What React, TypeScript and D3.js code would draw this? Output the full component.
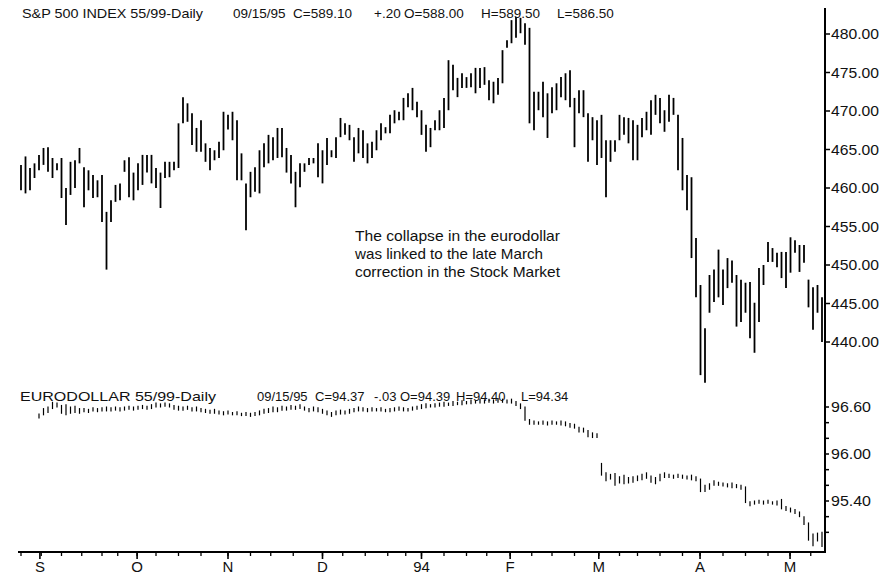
import React, { useEffect, useRef } from 'react';
import * as d3 from 'd3';

// S&P 500 daily bars (high / low), late Aug 1993 .. early May 1994
const spHigh = [
  463.0, 464.1, 462.6, 463.2, 464.3, 465.2, 465.3, 463.9, 463.2, 463.9,
  460.0, 463.4, 463.6, 465.2, 462.7, 462.3, 461.7, 461.0, 461.7, 456.9,
  458.4, 460.4, 460.6, 463.6, 464.0, 462.0, 463.2, 464.3, 464.3, 464.3,
  462.6, 462.0, 463.4, 463.4, 463.4, 468.4, 471.8, 471.0, 469.7, 467.8,
  468.8, 465.8, 465.2, 464.9, 466.0, 469.9, 469.5, 469.9, 468.8, 464.5,
  460.6, 462.1, 462.7, 464.9, 465.8, 466.9, 466.6, 467.8, 467.8, 465.2,
  464.3, 462.1, 463.2, 463.2, 463.9, 463.9, 465.8, 464.9, 466.5, 464.9,
  466.6, 469.1, 468.4, 468.2, 466.6, 467.8, 467.5, 465.8, 466.0, 467.5,
  468.4, 467.9, 469.5, 470.1, 469.9, 471.7, 472.3, 473.0, 471.2, 470.1,
  468.2, 467.8, 468.8, 470.1, 471.7, 476.6, 476.0, 474.3, 474.9, 474.4,
  474.9, 475.6, 475.6, 475.7, 474.0, 473.8, 474.3, 477.9, 479.2, 481.8,
  482.2, 482.1, 481.4, 480.8, 472.5, 472.5, 473.8, 472.3, 473.1, 473.6,
  474.4, 474.9, 475.3, 471.7, 472.7, 472.7, 469.7, 469.2, 468.8, 469.5,
  466.2, 466.2, 466.2, 469.5, 469.2, 469.1, 468.8, 468.2, 469.1, 469.9,
  471.4, 472.1, 471.7, 470.1, 472.1, 471.7, 469.5, 466.5, 461.7, 461.4,
  453.5, 447.4, 441.8, 448.7, 449.4, 452.0, 449.4, 450.9, 450.6, 448.7,
  448.1, 447.7, 447.8, 445.1, 449.6, 450.0, 453.0, 452.2, 451.6, 451.7,
  451.7, 453.6, 453.2, 452.6, 452.6, 448.1, 447.1, 447.4, 445.8,
];
const spLow = [
  459.7, 459.3, 459.7, 461.3, 462.3, 463.0, 462.1, 461.3, 462.3, 458.7,
  455.2, 459.1, 460.0, 463.2, 457.5, 459.7, 458.7, 458.8, 455.6, 449.4,
  455.6, 458.2, 458.4, 462.1, 458.8, 458.4, 459.7, 460.4, 462.0, 460.6,
  460.0, 457.4, 461.3, 461.4, 462.3, 462.6, 468.4, 468.6, 465.6, 464.7,
  464.7, 463.4, 462.3, 463.6, 463.9, 464.9, 467.6, 466.2, 461.0, 461.0,
  454.5, 458.8, 459.5, 459.3, 462.7, 463.2, 463.6, 463.9, 464.0, 462.0,
  460.6, 457.5, 460.1, 462.1, 463.0, 463.2, 461.4, 460.6, 463.0, 464.0,
  463.9, 466.6, 466.9, 466.2, 463.4, 464.5, 463.9, 463.2, 463.9, 464.9,
  466.2, 467.1, 467.1, 468.4, 468.8, 468.8, 470.5, 470.1, 469.2, 466.9,
  464.7, 465.3, 467.5, 467.5, 467.8, 470.1, 472.7, 471.8, 473.0, 473.0,
  473.1, 472.3, 473.0, 473.4, 471.4, 471.0, 472.1, 473.6, 478.2, 478.8,
  479.5, 480.1, 478.6, 468.4, 467.5, 470.1, 469.2, 466.5, 469.7, 470.1,
  471.8, 471.4, 470.5, 465.3, 469.7, 469.2, 463.4, 466.2, 463.0, 463.9,
  458.8, 463.4, 464.7, 466.2, 466.9, 465.8, 463.6, 463.6, 466.6, 467.5,
  466.9, 469.5, 468.4, 467.3, 468.6, 469.5, 462.3, 459.7, 457.1, 450.9,
  445.8, 435.7, 434.7, 443.8, 445.2, 445.8, 444.8, 447.0, 447.7, 442.0,
  442.6, 443.8, 440.5, 438.6, 442.6, 447.4, 450.4, 450.4, 449.7, 448.3,
  447.0, 449.0, 451.6, 449.1, 450.3, 444.5, 441.6, 443.8, 440.0,
];

// Eurodollar daily bars (high / low); the first four days have no bar
const edHigh = [
  null, null, null, null, 96.51, 96.58, 96.60, 96.66, 96.65, 96.62,
  96.63, 96.60, 96.61, 96.58, 96.58, 96.57, 96.59, 96.58, 96.59, 96.60,
  96.59, 96.60, 96.59, 96.60, 96.61, 96.60, 96.61, 96.62, 96.61, 96.63,
  96.65, 96.64, 96.65, 96.64, 96.62, 96.61, 96.60, 96.61, 96.59, 96.60,
  96.58, 96.57, 96.56, 96.57, 96.55, 96.54, 96.55, 96.53, 96.54, 96.52,
  96.53, 96.52, 96.53, 96.55, 96.57, 96.58, 96.60, 96.59, 96.61, 96.60,
  96.62, 96.61, 96.63, 96.60, 96.58, 96.60, 96.59, 96.57, 96.55, 96.53,
  96.55, 96.56, 96.55, 96.57, 96.58, 96.60, 96.59, 96.58, 96.59, 96.58,
  96.59, 96.57, 96.58, 96.59, 96.60, 96.59, 96.58, 96.60, 96.61, 96.63,
  96.64, 96.63, 96.64, 96.65, 96.66, 96.65, 96.67, 96.66, 96.68, 96.67,
  96.69, 96.68, 96.70, 96.69, 96.70, 96.69, 96.71, 96.70, 96.69, 96.70,
  96.67, 96.64, 96.60, 96.44, 96.42, 96.41, 96.42, 96.41, 96.42, 96.41,
  96.42, 96.41, 96.39, 96.38, 96.34, 96.33, 96.30, 96.27, 96.26, 95.88,
  95.76, 95.74, 95.75, 95.71, 95.73, 95.70, 95.71, 95.72, 95.74, 95.76,
  95.72, 95.70, 95.74, 95.76, 95.74, 95.73, 95.74, 95.73, 95.72, 95.73,
  95.71, 95.68, 95.60, 95.62, 95.66, 95.64, 95.63, 95.62, 95.63, 95.61,
  95.60, 95.58, 95.39, 95.40, 95.41, 95.40, 95.41, 95.39, 95.40, 95.42,
  95.33, 95.31, 95.29, 95.26, 95.20, 95.12, 94.98, 94.99, 95.00,
];
const edLow = [
  null, null, null, null, 96.46, 96.50, 96.53, 96.58, 96.60, 96.52,
  96.50, 96.52, 96.53, 96.52, 96.54, 96.53, 96.55, 96.54, 96.55, 96.55,
  96.55, 96.56, 96.55, 96.56, 96.57, 96.56, 96.57, 96.58, 96.57, 96.58,
  96.60, 96.60, 96.61, 96.60, 96.57, 96.56, 96.56, 96.57, 96.55, 96.55,
  96.54, 96.53, 96.52, 96.52, 96.51, 96.50, 96.51, 96.50, 96.50, 96.49,
  96.49, 96.48, 96.49, 96.50, 96.52, 96.53, 96.54, 96.54, 96.56, 96.56,
  96.57, 96.57, 96.58, 96.56, 96.54, 96.55, 96.54, 96.52, 96.50, 96.48,
  96.50, 96.51, 96.51, 96.52, 96.54, 96.55, 96.55, 96.54, 96.55, 96.55,
  96.55, 96.54, 96.54, 96.55, 96.56, 96.55, 96.55, 96.56, 96.57, 96.58,
  96.59, 96.60, 96.60, 96.61, 96.61, 96.62, 96.62, 96.63, 96.63, 96.64,
  96.64, 96.65, 96.65, 96.65, 96.66, 96.65, 96.66, 96.66, 96.65, 96.65,
  96.62, 96.58, 96.43, 96.38, 96.38, 96.38, 96.38, 96.37, 96.38, 96.38,
  96.37, 96.36, 96.34, 96.33, 96.28, 96.28, 96.22, 96.21, 96.21, 95.73,
  95.66, 95.68, 95.60, 95.63, 95.62, 95.63, 95.64, 95.66, 95.67, 95.69,
  95.64, 95.62, 95.66, 95.70, 95.70, 95.69, 95.70, 95.69, 95.68, 95.67,
  95.66, 95.52, 95.52, 95.55, 95.60, 95.60, 95.59, 95.58, 95.57, 95.57,
  95.55, 95.38, 95.34, 95.36, 95.37, 95.36, 95.37, 95.36, 95.35, 95.30,
  95.28, 95.26, 95.24, 95.20, 95.10, 94.90, 94.83, 94.89, 94.82,
];

const spTicks = [440, 445, 450, 455, 460, 465, 470, 475, 480];
const edTicks = [95.0, 95.2, 95.4, 95.6, 95.8, 96.0, 96.2, 96.4, 96.6];
const edLabels = [95.4, 96.0, 96.6];

// month labels and the bar index where each month starts
const monthLabels = ['S', 'O', 'N', 'D', '94', 'F', 'M', 'A', 'M'];
const monthAt = [4.2, 25.8, 46, 67, 89, 108.7, 128.4, 150.9, 170.9];
const weekAt = [0, 4.5, 9, 13.5, 18, 21.5, 25.8, 30, 35, 40, 46, 51, 55.5, 60.5, 67,
  71.5, 76.5, 81.5, 85.5, 89, 94, 99, 103.5, 108.7, 113.5, 118, 123, 128.4, 133,
  137, 142, 147, 150.9, 156, 161, 166, 170.9, 175.5];

const spHeader = ['S&P 500 INDEX 55/99-Daily', '09/15/95', 'C=589.10', '+.20', 'O=588.00', 'H=589.50', 'L=586.50'];
const edHeader = ['EURODOLLAR 55/99-Daily', '09/15/95', 'C=94.37', '-.03', 'O=94.39', 'H=94.40', 'L=94.34'];
const note = ['The collapse in the eurodollar', 'was linked to the late March', 'correction in the Stock Market'];

const W = 896;
const H = 578;
const FONT = '"Liberation Sans", Arial, Helvetica, sans-serif';

export default function App() {
  const ref = useRef<SVGSVGElement>(null);

  useEffect(() => {
    const svg = d3.select(ref.current);
    svg.selectAll('*').remove();

    const axisX = 825;
    const baseY = 552;

    const x = d3.scaleLinear().domain([0, spHigh.length - 1]).range([21, 822]);
    const ySp = d3.scaleLinear().domain([440, 480]).range([342, 34]);
    const yEd = d3.scaleLinear().domain([95.4, 96.6]).range([501, 407]);

    svg.append('rect').attr('width', W).attr('height', H).attr('fill', '#fff');

    // S&P bars
    svg.append('g')
      .selectAll('line')
      .data(spHigh.map((h, i) => ({ i, h, l: spLow[i] })))
      .enter()
      .append('line')
      .attr('x1', (d) => x(d.i))
      .attr('x2', (d) => x(d.i))
      .attr('y1', (d) => ySp(d.h))
      .attr('y2', (d) => ySp(d.l))
      .attr('stroke', '#000')
      .attr('stroke-width', 1.8);

    // eurodollar bars
    const edData = edHigh
      .map((h, i) => ({ i, h, l: edLow[i] }))
      .filter((d) => d.h != null);
    svg.append('g')
      .selectAll('line')
      .data(edData)
      .enter()
      .append('line')
      .attr('x1', (d) => x(d.i))
      .attr('x2', (d) => x(d.i))
      .attr('y1', (d) => yEd(d.h as number) - 0.5)
      .attr('y2', (d) => yEd(d.l as number) + 0.5)
      .attr('stroke', '#000')
      .attr('stroke-width', 1.2);

    // right axis
    svg.append('line')
      .attr('x1', axisX).attr('x2', axisX)
      .attr('y1', 8).attr('y2', baseY + 1)
      .attr('stroke', '#000').attr('stroke-width', 2);

    const label = (g: any, xx: number, yy: number, s: string, size: number, len?: number) => {
      const t = g.append('text')
        .attr('x', xx).attr('y', yy)
        .attr('font-family', FONT).attr('font-size', size)
        .attr('fill', '#111')
        .text(s);
      if (len) t.attr('textLength', len).attr('lengthAdjust', 'spacingAndGlyphs');
      return t;
    };

    const spAxis = svg.append('g');
    spTicks.forEach((t) => {
      spAxis.append('line')
        .attr('x1', axisX).attr('x2', axisX + 5)
        .attr('y1', ySp(t)).attr('y2', ySp(t))
        .attr('stroke', '#000').attr('stroke-width', 1.5);
      label(spAxis, axisX + 6, ySp(t) + 5, d3.format('.2f')(t), 14.5, 48);
    });

    const edAxis = svg.append('g');
    edTicks.forEach((t) => {
      edAxis.append('line')
        .attr('x1', axisX).attr('x2', axisX + 4)
        .attr('y1', yEd(t)).attr('y2', yEd(t))
        .attr('stroke', '#000').attr('stroke-width', 1.5);
    });
    edLabels.forEach((t) => {
      label(edAxis, axisX + 6, yEd(t) + 5, d3.format('.2f')(t), 14.5, 40);
    });

    // bottom time axis
    svg.append('line')
      .attr('x1', 18).attr('x2', axisX + 1)
      .attr('y1', baseY).attr('y2', baseY)
      .attr('stroke', '#000').attr('stroke-width', 2);
    weekAt.forEach((w) => {
      svg.append('line')
        .attr('x1', x(w)).attr('x2', x(w))
        .attr('y1', baseY).attr('y2', baseY + 4)
        .attr('stroke', '#000').attr('stroke-width', 1.3);
    });
    monthAt.forEach((m, k) => {
      svg.append('line')
        .attr('x1', x(m)).attr('x2', x(m))
        .attr('y1', baseY).attr('y2', baseY + 7)
        .attr('stroke', '#000').attr('stroke-width', 1.6);
      label(svg, x(m), 572, monthLabels[k], 15).attr('text-anchor', 'middle');
    });

    // headers
    const spHeadX = [22, 233, 293, 374, 404, 481, 557];
    spHeader.forEach((s, k) => label(svg, spHeadX[k], 18, s, 13.5, k === 0 ? 181 : undefined));

    const edHeadX = [20, 257, 315, 374, 400, 456, 521];
    edHeader.forEach((s, k) => label(svg, edHeadX[k], 401, s, 13, k === 0 ? 196 : undefined));

    // annotation
    const noteW = [205, 188, 205];
    note.forEach((s, k) => label(svg, 355, 241 + k * 18, s, 14.5, noteW[k]));
  }, []);

  return (
    <svg
      ref={ref}
      width={W}
      height={H}
      style={{ position: 'absolute', left: 0, top: 0, display: 'block' }}
    />
  );
}
